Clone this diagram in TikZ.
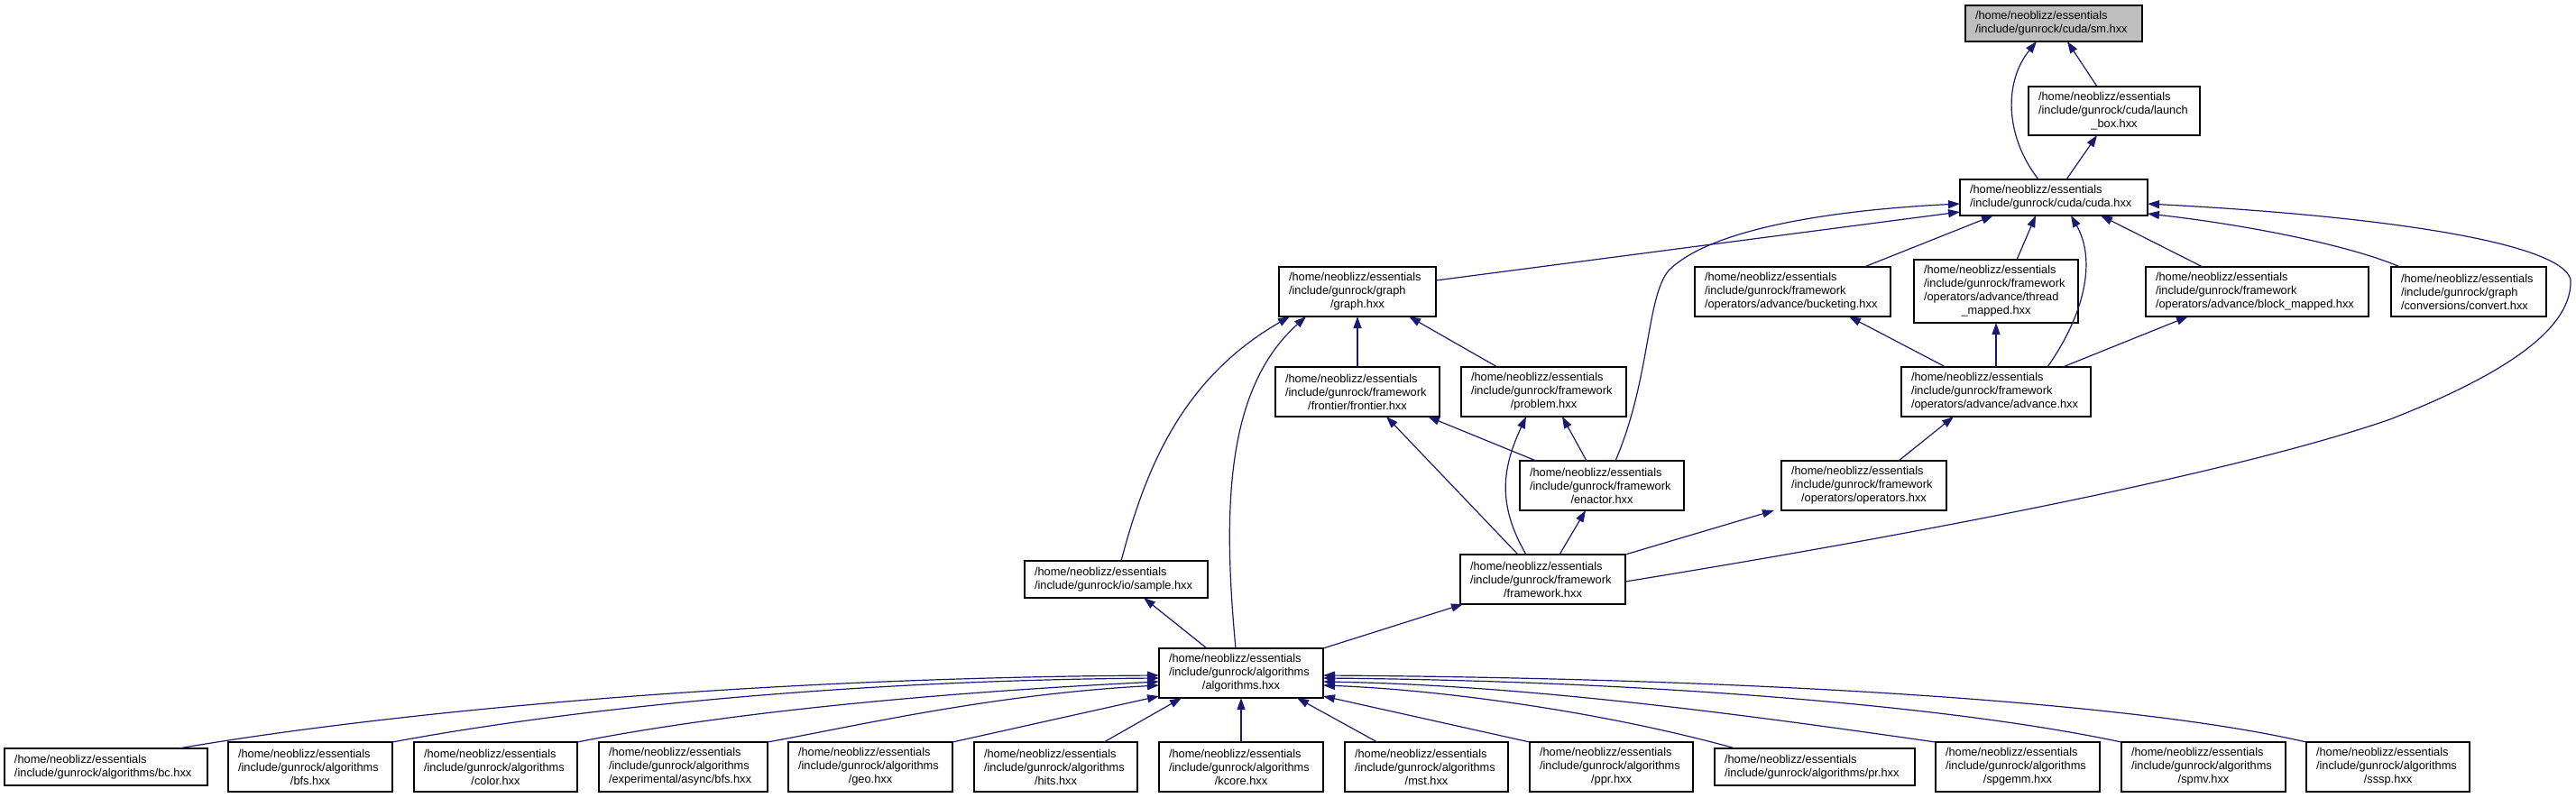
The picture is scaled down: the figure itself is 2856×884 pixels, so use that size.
\documentclass[tikz,border=0pt]{standalone}
\usepackage{fontspec}
\setmainfont{Liberation Sans}
\usetikzlibrary{arrows.meta}
\definecolor{edgec}{HTML}{191970}
\definecolor{smfill}{HTML}{BFBFBF}
\hyphenpenalty=10000
\exhyphenpenalty=10000
\newcommand\boxfont{\fontsize{12.8pt}{15pt}\selectfont}
\newcommand\ctrline[1]{{\centering #1\par}}
\newcommand\homeline{/home/neoblizz/essentials\par}
\newcommand\bx[7][]{%
  \pgfmathsetmacro\bxw{#5-#3}\pgfmathsetmacro\bxh{#6-#4}\pgfmathsetmacro\bxt{#5-#3-22}%
  \node[box,#1,minimum width=\bxw pt,minimum height=\bxh pt,text width=\bxt pt] (#2) at ({(#3+#5)/2},{(#4+#6)/2}) {#7};}
\begin{document}
\begin{tikzpicture}[x=1pt,y=-1pt,
  box/.style={draw=black,line width=1.3pt,fill=white,inner sep=0pt,outer sep=0pt,align=left,font=\boxfont},
  e/.style={draw=edgec,line width=1.2pt,-{Triangle[length=13pt,width=9pt]}}]
\useasboundingbox (0,0) rectangle (2856,884);
% nodes
\bx[fill=smfill]{sm}{2179}{6}{2375}{46}{\homeline /include/gunrock/cuda/sm.hxx\par}
\bx{launch}{2249}{96}{2439}{150}{\homeline /include/gunrock/cuda/launch\par\ctrline{\_box.hxx}}
\bx{cuda}{2173}{199}{2381}{239}{\homeline /include/gunrock/cuda/cuda.hxx\par}
\bx{graph}{1418}{296}{1592}{351}{\homeline /include/gunrock/graph\par\ctrline{/graph.hxx}}
\bx{bucketing}{1879}{296}{2096}{351}{\homeline /include/gunrock/framework\par /operators/advance/bucketing.hxx\par}
\bx{thread}{2122}{288}{2304}{358}{\homeline /include/gunrock/framework\par /operators/advance/thread\par\ctrline{\_mapped.hxx}}
\bx{block}{2379}{296}{2626}{351}{\homeline /include/gunrock/framework\par /operators/advance/block\_mapped.hxx\par}
\bx{convert}{2651}{296}{2823}{351}{\homeline /include/gunrock/graph\par /conversions/convert.hxx\par}
\bx{frontier}{1414}{407}{1596}{462}{\homeline /include/gunrock/framework\par\ctrline{/frontier/frontier.hxx}}
\bx{problem}{1620}{407}{1803}{462}{\homeline /include/gunrock/framework\par\ctrline{/problem.hxx}}
\bx{advance}{2108}{407}{2318}{462}{\homeline /include/gunrock/framework\par /operators/advance/advance.hxx\par}
\bx{enactor}{1685}{511}{1867}{566}{\homeline /include/gunrock/framework\par\ctrline{/enactor.hxx}}
\bx{operators}{1975}{511}{2158}{566}{\homeline /include/gunrock/framework\par\ctrline{/operators/operators.hxx}}
\bx{sample}{1136}{622}{1339}{663}{\homeline /include/gunrock/io/sample.hxx\par}
\bx{framework}{1619}{615}{1802}{670}{\homeline /include/gunrock/framework\par\ctrline{/framework.hxx}}
\bx{algorithms}{1285}{719}{1467}{774}{\homeline /include/gunrock/algorithms\par\ctrline{/algorithms.hxx}}
\bx{bc}{5}{830}{230}{871}{\homeline /include/gunrock/algorithms/bc.hxx\par}
\bx{bfs}{253}{823}{435}{878}{\homeline /include/gunrock/algorithms\par\ctrline{/bfs.hxx}}
\bx{color}{459}{823}{640}{878}{\homeline /include/gunrock/algorithms\par\ctrline{/color.hxx}}
\bx{async}{664}{823}{851}{878}{\homeline /include/gunrock/algorithms\par /experimental/async/bfs.hxx\par}
\bx{geo}{874}{823}{1056}{878}{\homeline /include/gunrock/algorithms\par\ctrline{/geo.hxx}}
\bx{hits}{1080}{823}{1261}{878}{\homeline /include/gunrock/algorithms\par\ctrline{/hits.hxx}}
\bx{kcore}{1285}{823}{1467}{878}{\homeline /include/gunrock/algorithms\par\ctrline{/kcore.hxx}}
\bx{mst}{1491}{823}{1672}{878}{\homeline /include/gunrock/algorithms\par\ctrline{/mst.hxx}}
\bx{ppr}{1696}{823}{1877}{878}{\homeline /include/gunrock/algorithms\par\ctrline{/ppr.hxx}}
\bx{pr}{1901}{830}{2123}{871}{\homeline /include/gunrock/algorithms/pr.hxx\par}
\bx{spgemm}{2146}{823}{2328}{878}{\homeline /include/gunrock/algorithms\par\ctrline{/spgemm.hxx}}
\bx{spmv}{2352}{823}{2534}{878}{\homeline /include/gunrock/algorithms\par\ctrline{/spmv.hxx}}
\bx{sssp}{2557}{823}{2738}{878}{\homeline /include/gunrock/algorithms\par\ctrline{/sssp.hxx}}
% edges
\draw[e] (2325,0 |- launch.north) -- (2292,0 |- sm.south);
\draw[e] (2260,0 |- cuda.north) .. controls (2222,150) and (2222,90) .. (2258,0 |- sm.south);
\draw[e] (2291,0 |- cuda.north) -- (2325,0 |- launch.south);
\draw[e] (graph.east |- 0,311) -- (cuda.west |- 0,235);
\draw[e] (1791,0 |- enactor.north) .. controls (1830,420) and (1825,330) .. (1850,300) .. controls (1900,250) and (2050,232) .. (cuda.west |- 0,226);
\draw[e] (2067,0 |- bucketing.north) -- (2210,0 |- cuda.south);
\draw[e] (2236,0 |- thread.north) -- (2257,0 |- cuda.south);
\draw[e] (2270,0 |- advance.north) .. controls (2310,350) and (2325,290) .. (2296,0 |- cuda.south);
\draw[e] (2442,0 |- block.north) -- (2329,0 |- cuda.south);
\draw[e] (2661,0 |- convert.north) .. controls (2600,270) and (2480,248) .. (cuda.east |- 0,237);
\draw[e] (framework.east |- 0,645) .. controls (2250,572) and (2520,510) .. (2650,465) .. controls (2790,410) and (2852,360) .. (2850,310) .. controls (2840,270) and (2650,240) .. (cuda.east |- 0,226);
\draw[e] (1505,0 |- frontier.north) -- (1505,0 |- graph.south);
\draw[e] (1660,0 |- problem.north) -- (1562,0 |- graph.south);
\draw[e] (1243,0 |- sample.north) .. controls (1270,520) and (1310,420) .. (1430,0 |- graph.south);
\draw[e] (1370,0 |- algorithms.north) .. controls (1355,560) and (1360,430) .. (1448,0 |- graph.south);
\draw[e] (1703,0 |- enactor.north) -- (1583,0 |- frontier.south);
\draw[e] (1683,0 |- framework.north) -- (1537,0 |- frontier.south);
\draw[e] (1759,0 |- enactor.north) -- (1732,0 |- problem.south);
\draw[e] (1692,0 |- framework.north) .. controls (1660,560) and (1665,520) .. (1692,0 |- problem.south);
\draw[e] (2157,0 |- advance.north) -- (2050,0 |- bucketing.south);
\draw[e] (2213,0 |- advance.north) -- (2213,0 |- thread.south);
\draw[e] (2287,0 |- advance.north) -- (2426,0 |- block.south);
\draw[e] (2105,0 |- operators.north) -- (2166,0 |- advance.south);
\draw[e] (1729,0 |- framework.north) -- (1758,0 |- enactor.south);
\draw[e] (framework.north east) -- (1967,0 |- operators.south);
\draw[e] (algorithms.north east) -- (1622,0 |- framework.south);
\draw[e] (1338,0 |- algorithms.north) -- (1268,0 |- sample.south);
% bottom row
\draw[e] (198,0 |- bc.north) .. controls (400,795) and (800,752) .. (algorithms.west |- 0,749);
\draw[e] (bfs.north east) .. controls (600,792) and (900,755) .. (algorithms.west |- 0,752);
\draw[e] (color.north east) .. controls (780,795) and (1000,770) .. (algorithms.west |- 0,756);
\draw[e] (async.north east) .. controls (950,805) and (1100,770) .. (algorithms.west |- 0,760);
\draw[e] (geo.north east) -- (algorithms.west |- 0,772);
\draw[e] (1224,0 |- hits.north) -- (1310,0 |- algorithms.south);
\draw[e] (kcore.north) -- (algorithms.south);
\draw[e] (1527,0 |- mst.north) -- (1438,0 |- algorithms.south);
\draw[e] (ppr.north west) -- (algorithms.east |- 0,772);
\draw[e] (1924,0 |- pr.north) .. controls (1780,790) and (1600,765) .. (algorithms.east |- 0,760);
\draw[e] (spgemm.north west) .. controls (1950,795) and (1700,760) .. (algorithms.east |- 0,756);
\draw[e] (spmv.north west) .. controls (2150,780) and (1800,755) .. (algorithms.east |- 0,752);
\draw[e] (sssp.north west) .. controls (2350,775) and (1900,752) .. (algorithms.east |- 0,749);
\end{tikzpicture}
\end{document}
